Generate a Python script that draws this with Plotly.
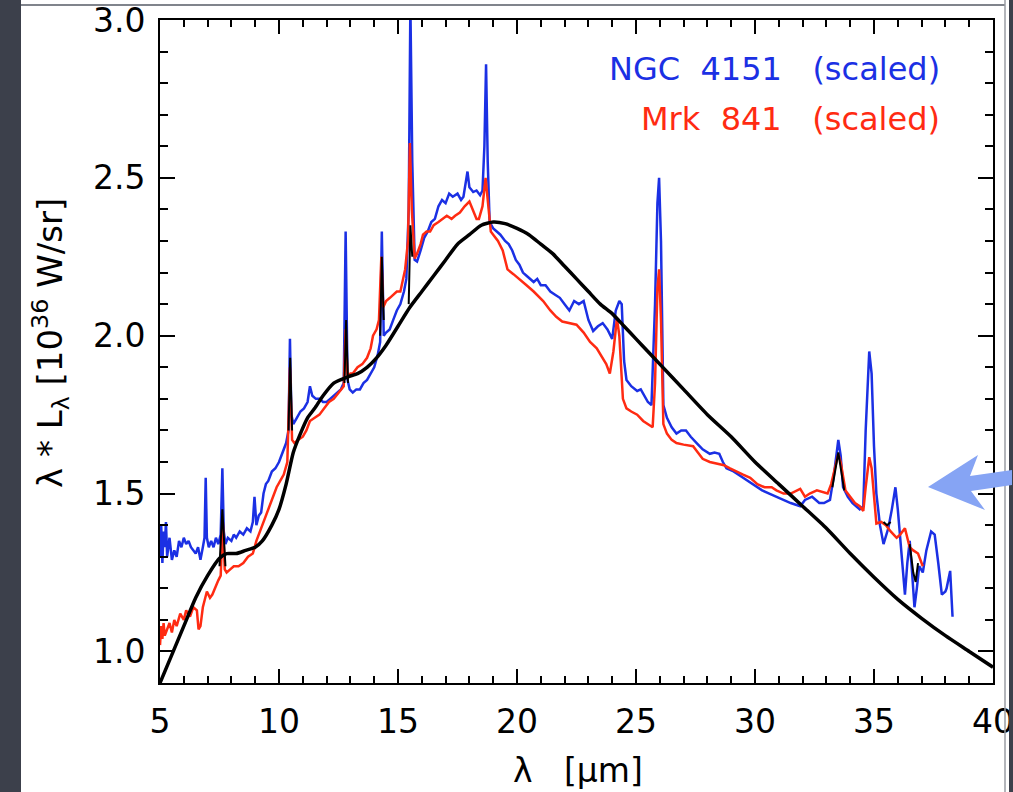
import plotly.graph_objects as go

# ---------------- data ----------------
lam_ngc = [5.0, 5.05, 5.1, 5.15, 5.2, 5.25, 5.3, 5.4, 5.5, 5.6, 5.7, 5.8, 5.9, 6.0, 6.1, 6.2, 6.3, 6.4, 6.5, 6.6,
           6.7, 6.8, 6.87, 6.92, 6.97, 7.05, 7.15, 7.25, 7.35, 7.45, 7.55, 7.62, 7.68, 7.75, 7.85, 8.0, 8.1, 8.2,
           8.35, 8.5, 8.65, 8.8, 8.9, 8.97, 9.05, 9.15, 9.25, 9.35, 9.45, 9.55, 9.7, 9.85, 10.0, 10.15, 10.3, 10.4,
           10.46, 10.52, 10.6, 10.75, 10.9, 11.05, 11.2, 11.3, 11.4, 11.55, 11.7, 11.85, 12.0, 12.15, 12.3, 12.45,
           12.6, 12.72, 12.8, 12.88, 12.97, 13.1, 13.25, 13.4, 13.55, 13.7, 13.85, 14.0, 14.15, 14.25, 14.32, 14.4,
           14.5, 14.65, 14.8, 14.95, 15.1, 15.25, 15.35, 15.45, 15.52, 15.6, 15.7, 15.8, 15.95, 16.1, 16.25, 16.4,
           16.55, 16.7, 16.85, 17.0, 17.15, 17.3, 17.5, 17.65, 17.75, 17.85, 17.92, 18.0, 18.16, 18.3, 18.45, 18.55,
           18.63, 18.7, 18.77, 18.85, 19.0, 19.15, 19.3, 19.5, 19.65, 19.8, 19.95, 20.1, 20.25, 20.4, 20.55, 20.7,
           20.85, 21.0, 21.2, 21.4, 21.6, 21.8, 22.0, 22.2, 22.4, 22.6, 22.8, 23.0, 23.2, 23.4, 23.6, 23.8, 24.0,
           24.15, 24.3, 24.4, 24.5, 24.6, 24.8, 25.05, 25.2, 25.35, 25.5, 25.65, 25.8, 25.9, 25.97, 26.05, 26.15,
           26.3, 26.5, 26.7, 26.9, 27.1, 27.3, 27.55, 27.8, 28.1, 28.3, 28.5, 28.65, 28.8, 29.1, 29.5, 29.9, 30.3,
           30.6, 30.9, 31.2, 31.5, 31.9, 32.1, 32.4, 32.7, 32.9, 33.15, 33.3, 33.5, 33.6, 33.7, 33.9, 34.1, 34.4,
           34.55, 34.65, 34.8, 34.9, 35.0, 35.1, 35.25, 35.4, 35.6, 35.75, 35.9, 36.0, 36.1, 36.2, 36.3, 36.4, 36.5,
           36.6, 36.7, 36.8, 36.9, 37.05, 37.2, 37.4, 37.55, 37.7, 37.85, 38.0, 38.05, 38.2, 38.3]
ngc_4151 = [1.30, 1.40, 1.28, 1.38, 1.33, 1.41, 1.30, 1.36, 1.29, 1.32, 1.30, 1.35, 1.33, 1.36, 1.34, 1.35, 1.33,
            1.32, 1.31, 1.33, 1.29, 1.33, 1.36, 1.55, 1.36, 1.33, 1.35, 1.33, 1.36, 1.34, 1.37, 1.58, 1.38, 1.34,
            1.36, 1.35, 1.37, 1.36, 1.38, 1.37, 1.39, 1.38, 1.41, 1.49, 1.40, 1.43, 1.44, 1.50, 1.53, 1.54, 1.57,
            1.58, 1.60, 1.63, 1.66, 1.70, 1.99, 1.75, 1.72, 1.74, 1.76, 1.77, 1.79, 1.84, 1.81, 1.80, 1.80, 1.79,
            1.79, 1.80, 1.81, 1.82, 1.83, 1.85, 2.33, 1.86, 1.83, 1.82, 1.83, 1.83, 1.85, 1.86, 1.88, 1.90, 1.94,
            1.98, 2.33, 2.00, 2.01, 2.02, 2.05, 2.08, 2.10, 2.14, 2.18, 2.40, 3.05, 2.55, 2.24, 2.235, 2.27, 2.31,
            2.33, 2.36, 2.37, 2.41, 2.43, 2.42, 2.45, 2.44, 2.45, 2.43, 2.44, 2.48, 2.52, 2.47, 2.455, 2.46, 2.445,
            2.46, 2.60, 2.86, 2.55, 2.36, 2.34, 2.33, 2.32, 2.30, 2.29, 2.27, 2.24, 2.225, 2.20, 2.19, 2.18, 2.17,
            2.18, 2.16, 2.16, 2.14, 2.13, 2.12, 2.10, 2.08, 2.11, 2.10, 2.11, 2.05, 2.015, 2.03, 2.04, 2.02, 1.99,
            2.08, 2.11, 2.10, 1.92, 1.86, 1.84, 1.825, 1.83, 1.81, 1.79, 1.78, 2.10, 2.42, 2.50, 2.30, 1.78, 1.74,
            1.71, 1.69, 1.70, 1.70, 1.68, 1.66, 1.64, 1.626, 1.63, 1.626, 1.60, 1.58, 1.57, 1.55, 1.53, 1.51, 1.50,
            1.49, 1.48, 1.47, 1.46, 1.48, 1.49, 1.47, 1.47, 1.48, 1.55, 1.67, 1.62, 1.52, 1.49, 1.47, 1.45, 1.46,
            1.70, 1.95, 1.88, 1.65, 1.50, 1.40, 1.34, 1.39, 1.45, 1.52, 1.45, 1.35, 1.25, 1.18, 1.28, 1.35, 1.25,
            1.14, 1.20, 1.27, 1.25, 1.32, 1.38, 1.37, 1.28, 1.18, 1.19, 1.20, 1.255, 1.11]

lam_mrk = [5.0, 5.05, 5.1, 5.15, 5.2, 5.3, 5.4, 5.5, 5.6, 5.7, 5.85, 6.0, 6.1, 6.26, 6.4, 6.55, 6.62, 6.7, 6.8,
           6.97, 7.1, 7.2, 7.35, 7.45, 7.55, 7.64, 7.72, 7.8, 7.95, 8.1, 8.3, 8.5, 8.7, 8.9, 9.05, 9.2, 9.35, 9.5,
           9.65, 9.75, 9.9, 10.05, 10.2, 10.35, 10.46, 10.55, 10.65, 10.8, 11.0, 11.15, 11.3, 11.5, 11.7, 11.9,
           12.1, 12.3, 12.55, 12.72, 12.8, 12.88, 13.0, 13.1, 13.3, 13.5, 13.7, 13.85, 13.95, 14.1, 14.2, 14.3,
           14.38, 14.5, 14.66, 14.8, 14.95, 15.1, 15.3, 15.42, 15.5, 15.58, 15.7, 15.8, 15.95, 16.05, 16.2, 16.35,
           16.5, 16.7, 16.9, 17.05, 17.25, 17.4, 17.6, 17.8, 18.0, 18.15, 18.3, 18.4, 18.55, 18.68, 18.78, 18.9,
           19.0, 19.2, 19.4, 19.6, 19.85, 20.1, 20.4, 20.7, 21.1, 21.4, 21.65, 21.9, 22.2, 22.5, 22.8, 23.07,
           23.35, 23.6, 23.75, 23.9, 24.05, 24.2, 24.3, 24.45, 24.6, 24.8, 25.05, 25.3, 25.5, 25.7, 25.8, 25.9,
           25.97, 26.05, 26.15, 26.3, 26.5, 26.7, 27.0, 27.4, 27.6, 27.8, 28.1, 28.4, 28.7, 28.95, 29.2, 29.5,
           29.8, 30.1, 30.4, 30.7, 30.9, 31.2, 31.5, 31.9, 32.1, 32.3, 32.6, 32.85, 33.05, 33.2, 33.35, 33.5,
           33.6, 33.8, 34.0, 34.2, 34.4, 34.55, 34.65, 34.8, 34.9, 35.0, 35.1, 35.3, 35.5, 35.7, 35.95, 36.1,
           36.3, 36.5, 36.65, 36.85, 37.05]
mrk_841 = [1.02, 1.08, 1.04, 1.09, 1.05, 1.07, 1.09, 1.06, 1.10, 1.08, 1.12, 1.10, 1.13, 1.11, 1.14, 1.13, 1.07,
           1.08, 1.14, 1.19, 1.17, 1.18, 1.21, 1.225, 1.24, 1.41, 1.26, 1.25, 1.26, 1.27, 1.27, 1.28, 1.30, 1.31,
           1.35, 1.38, 1.41, 1.435, 1.47, 1.49, 1.52, 1.54, 1.56, 1.60, 1.90, 1.67, 1.66, 1.67, 1.68, 1.70, 1.73,
           1.74, 1.75, 1.77, 1.79, 1.80, 1.825, 1.84, 2.02, 1.87, 1.88, 1.88, 1.90, 1.91, 1.93, 1.96, 2.00, 2.02,
           2.05, 2.25, 2.09, 2.11, 2.12, 2.13, 2.14, 2.14, 2.21, 2.30, 2.61, 2.40, 2.245, 2.26, 2.29, 2.32, 2.33,
           2.33, 2.35, 2.36, 2.37, 2.38, 2.37, 2.38, 2.39, 2.41, 2.425, 2.40, 2.37, 2.37, 2.41, 2.50, 2.42, 2.33,
           2.32, 2.30, 2.27, 2.21, 2.195, 2.18, 2.16, 2.14, 2.11, 2.08, 2.06, 2.045, 2.04, 2.035, 2.01, 1.98, 1.96,
           1.93, 1.91, 1.88, 1.95, 2.055, 2.00, 1.80, 1.77, 1.76, 1.75, 1.73, 1.72, 1.71, 1.85, 2.15, 2.21, 2.05,
           1.72, 1.69, 1.67, 1.66, 1.655, 1.65, 1.63, 1.61, 1.60, 1.595, 1.59, 1.58, 1.57, 1.56, 1.55, 1.53, 1.52,
           1.52, 1.51, 1.50, 1.50, 1.515, 1.49, 1.50, 1.51, 1.505, 1.50, 1.53, 1.58, 1.625, 1.60, 1.51, 1.49, 1.47,
           1.46, 1.445, 1.52, 1.615, 1.58, 1.48, 1.405, 1.41, 1.40, 1.38, 1.36, 1.37, 1.39, 1.33, 1.32, 1.31, 1.27]

# narrow black line-fit segments visible on top of the spectra (None = gap)
lam_fit = [7.5, 7.62, 7.75, None, 10.4, 10.47, 10.55, None, 12.75, 12.82, 12.9, None, 14.25, 14.32, 14.4, None,
           15.45, 15.52, 15.6, None, 33.25, 33.5, 33.75, None, 35.4, 35.55, 35.7, None, 36.5, 36.65, 36.75, 36.85]
fit_vals = [1.27, 1.45, 1.27, None, 1.70, 1.93, 1.70, None, 1.85, 2.05, 1.85, None, 2.00, 2.25, 2.05, None,
            2.10, 2.35, 2.25, None, 1.52, 1.63, 1.51, None, 1.41, 1.40, 1.41, None, 1.34, 1.25, 1.22, 1.28]

lam_model = [5.0, 5.5, 6.0, 6.5, 7.0, 7.5, 7.8, 8.2, 8.6, 9.0, 9.3, 9.7, 10.0, 10.3, 10.6, 10.9, 11.2, 11.5,
             11.85, 12.3, 12.9, 13.3, 13.7, 14.1, 14.5, 15.0, 15.5, 16.0, 16.5, 17.0, 17.5, 18.0, 18.5, 19.0,
             19.5, 20.0, 20.5, 21.0, 21.5, 22.0, 22.5, 23.0, 23.5, 24.0, 24.5, 25.0, 25.5, 26.0, 27.0, 28.0,
             29.0, 30.0, 31.0, 32.0, 33.0, 34.0, 35.0, 36.0, 37.0, 38.0, 39.0, 40.0]
model_vals = [0.90, 0.99, 1.08, 1.17, 1.24, 1.295, 1.31, 1.31, 1.32, 1.33, 1.35, 1.40, 1.45, 1.53, 1.63, 1.69,
              1.74, 1.77, 1.81, 1.85, 1.87, 1.88, 1.90, 1.93, 1.97, 2.03, 2.09, 2.14, 2.19, 2.24, 2.29, 2.32,
              2.35, 2.36, 2.355, 2.34, 2.32, 2.29, 2.26, 2.22, 2.18, 2.14, 2.10, 2.07, 2.03, 1.99, 1.95, 1.91,
              1.83, 1.75, 1.68, 1.60, 1.53, 1.46, 1.39, 1.31, 1.235, 1.165, 1.105, 1.05, 1.00, 0.95]

y_tick_vals = [1.0, 1.5, 2.0, 2.5, 3.0]
y_tick_text = ["1.0", "1.5", "2.0", "2.5", "3.0"]
x_tick_vals = [5, 10, 15, 20, 25, 30, 35, 40]

BLUE = "#1b30e4"
RED = "#ff2b12"
FONT = "DejaVu Sans"

W, H = 1013, 792
L, R, T, B = 160, 20, 20, 109


def px(xp):
    return (xp - L) / (W - L - R)


def py(yp):
    return (H - B - yp) / (H - B - T)


fig = go.Figure()
fig.add_trace(go.Scatter(x=lam_ngc, y=ngc_4151, mode="lines", line=dict(color=BLUE, width=2.5),
                         name="NGC 4151 (scaled)", showlegend=False))
fig.add_trace(go.Scatter(x=lam_mrk, y=mrk_841, mode="lines", line=dict(color=RED, width=2.5),
                         name="Mrk 841 (scaled)", showlegend=False))
fig.add_trace(go.Scatter(x=lam_fit, y=fit_vals, mode="lines", line=dict(color="black", width=2),
                         connectgaps=False, showlegend=False))
fig.add_trace(go.Scatter(x=lam_model, y=model_vals, mode="lines",
                         line=dict(color="black", width=3.5, shape="spline", smoothing=0.6),
                         showlegend=False))

axis_common = dict(showline=True, linecolor="black", linewidth=2, mirror="allticks",
                   ticks="inside", tickcolor="black", tickwidth=2, showgrid=False, zeroline=False,
                   ticklabeloverflow="allow",
                   tickfont=dict(family=FONT, size=33, color="black"))

fig.update_xaxes(range=[5, 40], tickvals=x_tick_vals, ticklen=14,
                 minor=dict(dtick=1, ticklen=7, tickwidth=2, ticks="inside", tickcolor="black"),
                 ticklabelstandoff=8, **axis_common)
fig.update_yaxes(range=[0.9, 3.0], tickvals=y_tick_vals, ticktext=y_tick_text, ticklen=15,
                 minor=dict(dtick=0.1, tick0=0.9, ticklen=8, tickwidth=2, ticks="inside", tickcolor="black"),
                 ticklabelstandoff=6, **axis_common)

shapes = [
    # dark slide edges
    dict(type="rect", xref="paper", yref="paper", x0=px(-2), x1=px(21), y0=py(H + 2), y1=py(-2),
         fillcolor="#3c404b", line=dict(width=0), layer="above"),
    dict(type="rect", xref="paper", yref="paper", x0=px(1009), x1=px(W + 2), y0=py(H + 2), y1=py(-2),
         fillcolor="#3c404b", line=dict(width=0), layer="above"),
    # thin frame lines of the slide panel
    dict(type="line", xref="paper", yref="paper", x0=px(21), x1=px(1005), y0=py(5), y1=py(5),
         line=dict(color="#80848c", width=2), layer="above"),
    dict(type="line", xref="paper", yref="paper", x0=px(1005), x1=px(1005), y0=py(0), y1=py(H),
         line=dict(color="#9a9da3", width=1.5), layer="above"),
]

# light blue arrow pointing to the spectra
arrow_pts = [(928, 487), (978, 455), (970, 476), (1012, 470), (1012, 485), (971, 491), (985, 510)]
path = "M " + " L ".join(f"{px(a):.5f},{py(b):.5f}" for a, b in arrow_pts) + " Z"
shapes.append(dict(type="path", xref="paper", yref="paper", path=path,
                   fillcolor="#86a4f4", line=dict(width=0), layer="above"))

annotations = [
    dict(text="NGC  4151   (scaled)", x=px(942), y=py(69), xref="paper", yref="paper",
         xanchor="right", yanchor="middle", showarrow=False,
         font=dict(family=FONT, size=32, color=BLUE)),
    dict(text="Mrk  841   (scaled)", x=px(942), y=py(119), xref="paper", yref="paper",
         xanchor="right", yanchor="middle", showarrow=False,
         font=dict(family=FONT, size=32, color=RED)),
    dict(text="λ   [μm]", x=px(578), y=py(770), xref="paper", yref="paper",
         xanchor="center", yanchor="middle", showarrow=False,
         font=dict(family=FONT, size=33, color="black")),
    dict(text="λ * L<sub>λ</sub> [10<sup>36</sup> W/sr]", x=px(50), y=py(343), xref="paper", yref="paper",
         xanchor="center", yanchor="middle", showarrow=False, textangle=-90,
         font=dict(family=FONT, size=34, color="black")),
]

fig.update_layout(width=W, height=H, margin=dict(l=L, r=R, t=T, b=B, autoexpand=False),
                  paper_bgcolor="white", plot_bgcolor="white", showlegend=False,
                  shapes=shapes, annotations=annotations)

fig.write_html("out.html", config={"displayModeBar": False},
               post_script="document.body.style.margin='0px';document.body.style.overflow='hidden';")
